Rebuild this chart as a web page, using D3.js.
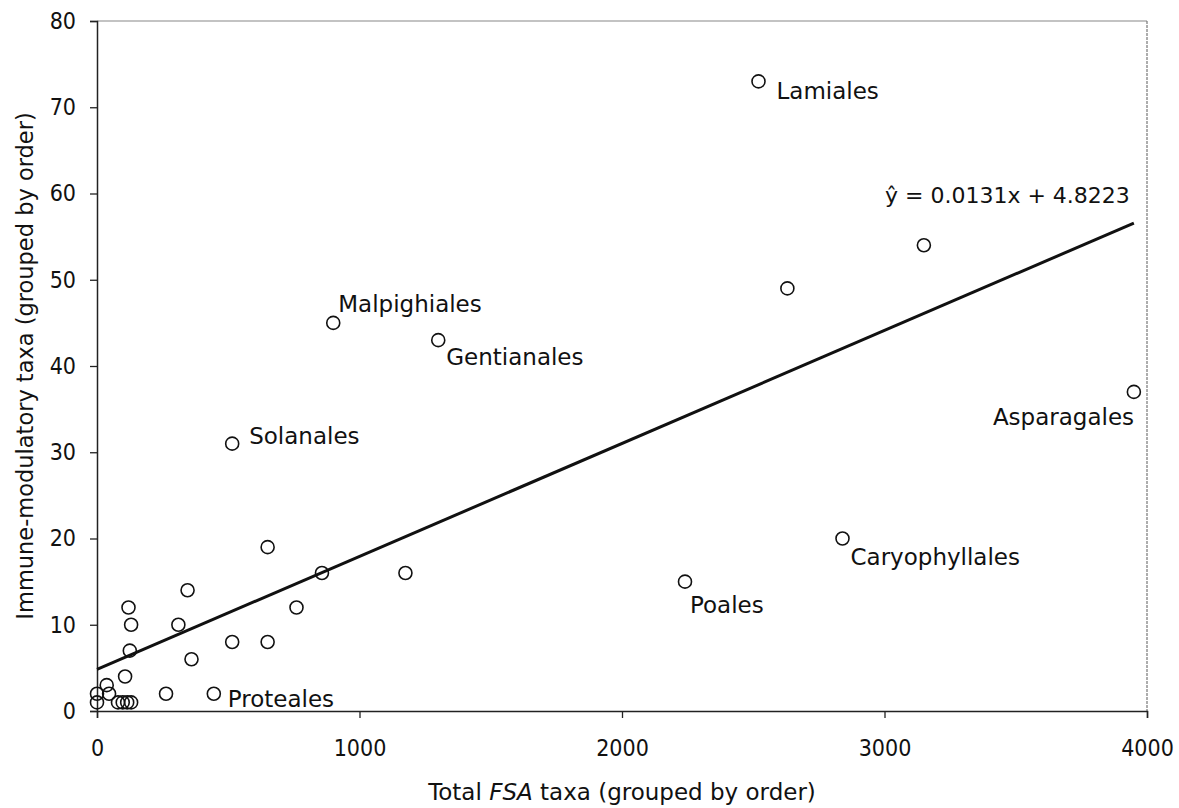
<!DOCTYPE html>
<html>
<head>
<meta charset="utf-8">
<script src="https://cdn.jsdelivr.net/npm/d3@7"></script>
<style>
  body { margin: 0; background: #fff; }
  svg { display: block; font-family: "DejaVu Sans", Verdana, sans-serif; }
  .narrow { font-family: "DejaVu Sans Condensed", "DejaVu Sans", sans-serif; font-stretch: condensed; }
</style>
</head>
<body>
<div id="chart"></div>
<script>
// Orders: total FSA taxa (x) vs immune-modulatory taxa (y)
const fsaTaxa = [2520, 3150, 2630, 900, 1300, 3950, 515, 650, 2840, 857, 1175, 2240,
                 760, 345, 120, 130, 310, 125, 360, 515, 650, 107, 263, 445,
                 0, 0, 37, 46, 80, 98, 115, 130];
const immuneTaxa = [73, 54, 49, 45, 43, 37, 31, 19, 20, 16, 16, 15,
                    12, 14, 12, 10, 10, 7, 6, 8, 8, 4, 2, 2,
                    1, 2, 3, 2, 1, 1, 1, 1];
const pointNames = ['Lamiales', '', '', 'Malpighiales', 'Gentianales', 'Asparagales', 'Solanales', '',
                    'Caryophyllales', '', '', 'Poales', '', '', '', '', '', '', '', '', '', '', '', 'Proteales',
                    '', '', '', '', '', '', '', ''];

const xTicks = [0, 1000, 2000, 3000, 4000];
const yTicks = [0, 10, 20, 30, 40, 50, 60, 70, 80];

// Trendline from the chart
const slope = 0.0131;
const intercept = 4.8223;
const trendLabel = 'ŷ = 0.0131x + 4.8223';

// Label placement relative to each point (pixels)
const labelOffsets = {
    'Lamiales': [18, 18],
    'Malpighiales': [5, -11],
    'Gentianales': [8, 25],
    'Asparagales': [-141, 33],
    'Solanales': [17, 0],
    'Caryophyllales': [8, 26],
    'Poales': [5, 31],
    'Proteales': [14, 13]
};

const width = 1179, height = 808;
const margin = { left: 97, right: 32, top: 21, bottom: 97 };

const svg = d3.select('#chart').append('svg')
    .attr('width', width)
    .attr('height', height);

const x = d3.scaleLinear().domain([0, 4000]).range([margin.left, width - margin.right]);
const y = d3.scaleLinear().domain([0, 80]).range([height - margin.bottom, margin.top]);

const points = fsaTaxa.map((v, i) => ({ x: v, y: immuneTaxa[i], name: pointNames[i] }));

// Frame: light top and right borders
svg.append('line')
    .attr('x1', x(0)).attr('x2', x(4000))
    .attr('y1', y(80)).attr('y2', y(80))
    .attr('stroke', '#888').attr('stroke-width', 1.2);
svg.append('line')
    .attr('x1', x(4000)).attr('x2', x(4000))
    .attr('y1', y(80)).attr('y2', y(0))
    .attr('stroke', '#777').attr('stroke-width', 1.2)
    .attr('stroke-dasharray', '3,1');

// Axes
const xAxis = svg.append('g')
    .attr('transform', `translate(0,${y(0)})`)
    .call(d3.axisBottom(x).tickValues(xTicks).tickSize(7).tickPadding(22).tickFormat(d3.format('d')));
const yAxis = svg.append('g')
    .attr('transform', `translate(${x(0)},0)`)
    .call(d3.axisLeft(y).tickValues(yTicks).tickSize(7).tickPadding(14).tickFormat(d3.format('d')));

[xAxis, yAxis].forEach(g => {
    g.select('.domain').attr('stroke', '#222').attr('stroke-width', 1.5);
    g.selectAll('.tick line').attr('stroke', '#222').attr('stroke-width', 1.3);
    g.selectAll('.tick text')
        .attr('class', 'narrow')
        .attr('fill', '#111')
        .style('font-size', '23px')
        .style('font-family', null);
});

// Trendline
const xMax = d3.max(fsaTaxa);
svg.append('line')
    .attr('x1', x(0)).attr('y1', y(intercept))
    .attr('x2', x(xMax)).attr('y2', y(slope * xMax + intercept))
    .attr('stroke', '#111')
    .attr('stroke-width', 3);

// Points
svg.append('g')
    .selectAll('circle')
    .data(points)
    .enter()
    .append('circle')
    .attr('cx', d => x(d.x))
    .attr('cy', d => y(d.y))
    .attr('r', 6.5)
    .attr('fill', 'none')
    .attr('stroke', '#111')
    .attr('stroke-width', 1.6);

// Point labels
svg.append('g')
    .selectAll('text')
    .data(points.filter(d => d.name))
    .enter()
    .append('text')
    .attr('x', d => x(d.x) + labelOffsets[d.name][0])
    .attr('y', d => y(d.y) + labelOffsets[d.name][1])
    .attr('fill', '#111')
    .style('font-size', '23px')
    .text(d => d.name);

// Equation
svg.append('text')
    .attr('x', 885)
    .attr('y', 203)
    .attr('fill', '#111')
    .style('font-size', '22px')
    .text(trendLabel);

// Axis titles
const xTitle = svg.append('text')
    .attr('x', (x(0) + x(4000)) / 2)
    .attr('y', 800)
    .attr('text-anchor', 'middle')
    .attr('fill', '#111')
    .style('font-size', '23px');
xTitle.append('tspan').text('Total ');
xTitle.append('tspan').style('font-style', 'italic').text('FSA');
xTitle.append('tspan').text(' taxa (grouped by order)');

svg.append('text')
    .attr('transform', `translate(33,${(y(0) + y(80)) / 2}) rotate(-90)`)
    .attr('text-anchor', 'middle')
    .attr('fill', '#111')
    .style('font-size', '22.5px')
    .text('Immune-modulatory taxa (grouped by order)');
</script>
</body>
</html>
